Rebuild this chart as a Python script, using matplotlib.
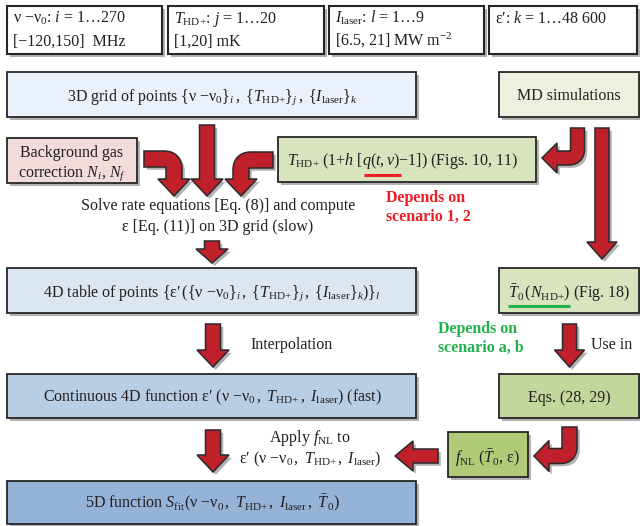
"""Flowchart of the line-shape fitting procedure (epsilon' table -> 5D fit function)."""

import numpy as np
import matplotlib

matplotlib.use("Agg")
import matplotlib.pyplot as plt
from matplotlib import patheffects as pe
from matplotlib.patches import Polygon, Rectangle

plt.rcParams["font.family"] = ["Liberation Serif", "DejaVu Serif"]
plt.rcParams["mathtext.fontset"] = "custom"
plt.rcParams["mathtext.rm"] = "Liberation Serif"
plt.rcParams["mathtext.it"] = "Liberation Serif:italic"
plt.rcParams["mathtext.bf"] = "Liberation Serif:bold"

# ---- texts -------------------------------------------------------------
NU = r"\mathrm{ν}"
EPS = r"\mathrm{ε′}"
THD = r"T_{\mathrm{HD{+}}}"
ILAS = r"I_{\mathrm{laser}}"

param_line1 = [
    rf"${NU}\ {{-}}{NU}_0$: $i$ = 1…270",
    rf"${THD}$: $j$ = 1…20",
    rf"${ILAS}$: $l$ = 1…9",
    r"ε′: $k$ = 1…48 600",
]
param_line2 = ["[−120,150]  MHz", "[1,20] mK", r"[6.5, 21] MW m$^{-2}$", ""]

main_labels = [
    rf"3D grid of points $\{{{NU}\ {{-}}{NU}_0\}}_i\,,\ \{{{THD}\}}_j\,,\ \{{{ILAS}\}}_k$",
    rf"4D table of points $\{{{EPS}\,(\{{{NU}\ {{-}}{NU}_0\}}_i\,,\ \{{{THD}\}}_j\,,\ \{{{ILAS}\}}_k)\}}_l$",
    rf"Continuous 4D function ε′ $({NU}\ {{-}}{NU}_0\,,\ {THD}\,,\ {ILAS})$ (fast)",
    rf"5D function $S_{{\mathrm{{fit}}}}({NU}\ {{-}}{NU}_0\,,\ {THD}\,,\ {ILAS}\,,\ \bar{{T}}_0)$",
]
main_colors = ["#ebf1fa", "#dce6f2", "#b9cde5", "#95b3d7"]

side_labels = ["MD simulations", None, "Eqs. (28, 29)"]
side_colors = ["#ebf1de", "#d7e4bd", "#c3d69b"]

bg_label = ["Background gas", r"correction $N_i$, $N_f$"]
t_prefix = rf"${THD}\ (1{{+}}h\ [$"
t_q = r"$q(t,v)$"
t_label = rf"${THD}\ (1{{+}}h\ [q(t,v){{-}}1])$ (Figs. 10, 11)"
t0_part = r"$\bar{T}_0\,(N_{\mathrm{HD{+}}})$"
t0_label = t0_part + " (Fig. 18)"
fnl_label = r"$f_{\mathrm{NL}}\ (\bar{T}_0$, ε)"
solve_lines = ["Solve rate equations [Eq. (8)] and compute", "ε [Eq. (11)] on 3D grid (slow)"]
apply_lines = [r"Apply $f_{\mathrm{NL}}$ to", rf"ε′ $({NU}\ {{-}}{NU}_0\,,\ {THD}\,,\ {ILAS})$"]
red_note = ["Depends on", "scenario 1, 2"]
green_note = ["Depends on", "scenario a, b"]

TXT = "#231f20"
ARROW = "#c0202a"
RED = "#ed1c24"
GREEN = "#22b14c"
FS = 11.5

SHADOW = [pe.SimplePatchShadow(offset=(2, -2), shadow_rgbFace="#7f7f7f", alpha=0.6), pe.Normal()]

fig = plt.figure(figsize=(6.4, 5.26), dpi=100)
ax = fig.add_axes([0, 0, 1, 1])
ax.set_xlim(0, 640)
ax.set_ylim(526, 0)
ax.axis("off")
renderer = fig.canvas.get_renderer()


def width(s, size=FS):
    t = ax.text(0, 0, s, fontsize=size)
    w = t.get_window_extent(renderer=renderer).width
    t.remove()
    return w


def box(x0, x1, y0, y1, color, lw=1.3, shadow=True):
    r = Rectangle((x0, y0), x1 - x0, y1 - y0, facecolor=color, edgecolor="#262626", lw=lw,
                  path_effects=SHADOW if shadow else None, zorder=2)
    ax.add_patch(r)


def arrow(points, shaft=15, head_w=32, head_len=17):
    """Filled arrow along a polyline (optionally bent with a rounded corner)."""
    pts = np.asarray(points, dtype=float)
    d = pts[-1] - pts[-2]
    d /= np.hypot(*d)
    base = pts[-1] - head_len * d
    line = np.vstack([pts[:-1], base])
    tang = np.gradient(line, axis=0)
    tang /= np.hypot(tang[:, 0], tang[:, 1])[:, None]
    nrm = np.column_stack([-tang[:, 1], tang[:, 0]])
    left = line + nrm * shaft / 2
    right = line - nrm * shaft / 2
    n2 = np.array([-d[1], d[0]])
    poly = np.vstack([left, base + n2 * head_w / 2, pts[-1], base - n2 * head_w / 2, right[::-1]])
    ax.add_patch(Polygon(poly, closed=True, facecolor=ARROW, edgecolor="#2a2a2a", lw=1.1,
                         joinstyle="miter", path_effects=SHADOW, zorder=3))


def elbow(start, corner, tip, r=9, **kw):
    start, corner, tip = (np.asarray(p, dtype=float) for p in (start, corner, tip))
    d1 = (corner - start) / np.hypot(*(corner - start))
    d2 = (tip - corner) / np.hypot(*(tip - corner))
    p0, p2 = corner - r * d1, corner + r * d2
    t = np.linspace(0, 1, 14)[:, None]
    curve = (1 - t) ** 2 * p0 + 2 * (1 - t) * t * corner + t ** 2 * p2
    arrow(np.vstack([start, curve, tip]), **kw)


# ---- parameter boxes ---------------------------------------------------
top_x = [(7, 162), (168, 324), (329, 484), (489, 637)]
for (x0, x1), l1, l2 in zip(top_x, param_line1, param_line2):
    box(x0, x1, 6, 54, "white", lw=1.5)
    ax.text(x0 + 6, 23, l1, fontsize=FS, color=TXT, zorder=4)
    ax.text(x0 + 6, 46, l2, fontsize=FS, color=TXT, zorder=4)

# ---- main column -------------------------------------------------------
main_y = [(72, 117), (268, 313), (374, 418), (481, 524)]
for (y0, y1), label, color in zip(main_y, main_labels, main_colors):
    box(7, 416, y0, y1, color)
    ax.text(212, y1 - 16.5, label, fontsize=FS, color=TXT, ha="center", zorder=4)

side_y = [(72, 117), (268, 313), (374, 418)]
for (y0, y1), label, color in zip(side_y, side_labels, side_colors):
    box(499, 639, y0, y1, color)
    if label:
        ax.text(569, y1 - 16.5, label, fontsize=FS, color=TXT, ha="center", zorder=4)

# background gas, modified temperature, f_NL boxes
box(7, 137, 138, 183, "#f2dcdb")
ax.text(72, 157, bg_label[0], fontsize=FS, color=TXT, ha="center", zorder=4)
ax.text(72, 177, bg_label[1], fontsize=FS, color=TXT, ha="center", zorder=4)

box(278, 536, 137, 182, "#d7e4bd")
ax.text(287, 165, t_label, fontsize=FS, color=TXT, zorder=4)
u0 = 287 + width(t_prefix)
ax.plot([u0, u0 + width(t_q)], [175, 175], color=RED, lw=2.2, solid_capstyle="butt", zorder=4)

t0_left = 569 - width(t0_label) / 2
ax.text(t0_left, 298, t0_label, fontsize=FS, color=TXT, zorder=4)
ax.plot([t0_left, t0_left + width(t0_part)], [306, 306], color=GREEN, lw=2.2,
        solid_capstyle="butt", zorder=4)

box(448, 528, 432, 477, "#b0ca78")
ax.text(488, 463, fnl_label, fontsize=FS, color=TXT, ha="center", zorder=4)

# ---- free text ---------------------------------------------------------
ax.text(218, 210, solve_lines[0], fontsize=FS, color=TXT, ha="center")
ax.text(218, 231, solve_lines[1], fontsize=FS, color=TXT, ha="center")
ax.text(310, 442, apply_lines[0], fontsize=FS, color=TXT, ha="center")
ax.text(310, 463, apply_lines[1], fontsize=FS, color=TXT, ha="center")
ax.text(250, 349, "Interpolation", fontsize=FS, color=TXT)
ax.text(591, 349, "Use in", fontsize=FS, color=TXT)
ax.text(386, 202, red_note[0], fontsize=FS, color=RED, fontweight="bold")
ax.text(386, 221, red_note[1], fontsize=FS, color=RED, fontweight="bold")
ax.text(438, 333, green_note[0], fontsize=FS, color=GREEN, fontweight="bold")
ax.text(438, 352, green_note[1], fontsize=FS, color=GREEN, fontweight="bold")

# ---- arrows ------------------------------------------------------------
elbow((144, 159), (174, 159), (174, 196), r=10, shaft=16)
arrow([(207, 125), (207, 196)])
elbow((273, 160), (241, 160), (241, 196), r=10, shaft=16)
arrow([(212, 241), (212, 263)], head_len=14)
arrow([(213, 324), (213, 367)])
arrow([(213, 430), (213, 472)])
elbow((577.5, 128), (577.5, 158), (542, 158), shaft=14, head_w=30, head_len=15)
arrow([(602, 128), (602, 259)], shaft=14, head_w=30)
arrow([(569.5, 324), (569.5, 367)], shaft=14, head_w=30)
elbow((569.5, 427), (569.5, 456), (534, 456), shaft=15, head_w=31, head_len=15)
arrow([(438, 456), (395, 456)], shaft=14, head_w=30, head_len=18)

fig.savefig("out.png", dpi=100)
